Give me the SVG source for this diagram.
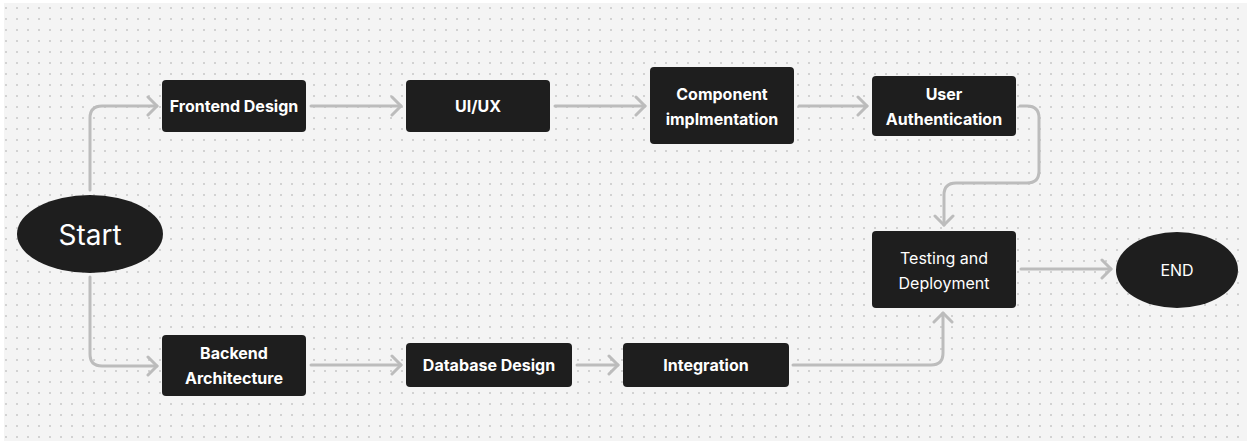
<svg xmlns="http://www.w3.org/2000/svg" width="1251" height="444" viewBox="0 0 1251 444">
  <style>
    .box { fill: #1e1e1e; }
    .lbl { fill: #ffffff; font-family: Inter, "Liberation Sans", sans-serif; font-size: 16px; font-weight: 700; text-anchor: middle; dominant-baseline: central; }
    .reg { font-weight: 400; }
    .big { font-size: 28px; font-weight: 400; }
    .conn { fill: none; stroke: #bcbcbc; stroke-width: 3; stroke-linecap: round; stroke-linejoin: round; marker-end: url(#arr); }
  </style>
  <defs>
    <pattern id="dots" width="11" height="11" patternUnits="userSpaceOnUse" x="5" y="7">
      <circle cx="1" cy="1" r="0.9" fill="#c2c2c2"/>
    </pattern>
    <marker id="arr" viewBox="-12 -12 14 24" refX="0" refY="0" markerWidth="14" markerHeight="24" markerUnits="userSpaceOnUse" orient="auto">
      <path d="M-9,-9 L0,0 L-9,9" fill="none" stroke="#bcbcbc" stroke-width="3" stroke-linecap="round" stroke-linejoin="round"/>
    </marker>
  </defs>
  <rect x="0" y="0" width="1251" height="444" fill="#ffffff"/>
  <rect x="4" y="3" width="1243" height="438" fill="#f4f4f4"/>
  <rect x="4" y="3" width="1243" height="438" fill="url(#dots)"/>

  <g id="connectors">
    <path class="conn" d="M90 190 V118 Q90 106 102 106 H157"/>
    <path class="conn" d="M90 277 V354 Q90 366 102 366 H157"/>
    <path class="conn" d="M311 106 H401"/>
    <path class="conn" d="M555 106 H645"/>
    <path class="conn" d="M799 106 H867"/>
    <path class="conn" d="M1020 106 H1027 Q1039 106 1039 118 V171 Q1039 183 1027 183 H956 Q944 183 944 195 V225"/>
    <path class="conn" d="M1021 269 H1111"/>
    <path class="conn" d="M311 365 H401"/>
    <path class="conn" d="M577 365 H618"/>
    <path class="conn" d="M793 365 H931 Q943 365 943 353 V313"/>
  </g>

  <g id="start">
    <ellipse class="box" cx="90" cy="234" rx="73" ry="39"/>
    <text class="lbl big" x="90" y="235">Start</text>
  </g>
  <g id="frontend-design">
    <rect class="box" x="162" y="80" width="144" height="52" rx="4"/>
    <text class="lbl" x="234" y="106">Frontend Design</text>
  </g>
  <g id="ui-ux">
    <rect class="box" x="406" y="80" width="144" height="52" rx="4"/>
    <text class="lbl" x="478" y="106">UI/UX</text>
  </g>
  <g id="component">
    <rect class="box" x="650" y="67" width="144" height="77" rx="4"/>
    <text class="lbl" x="722" y="94">Component</text>
    <text class="lbl" x="722" y="119">implmentation</text>
  </g>
  <g id="user-auth">
    <rect class="box" x="872" y="76" width="144" height="60" rx="4"/>
    <text class="lbl" x="944" y="94">User</text>
    <text class="lbl" x="944" y="119">Authentication</text>
  </g>
  <g id="testing">
    <rect class="box" x="872" y="231" width="144" height="77" rx="4"/>
    <text class="lbl reg" x="944" y="258">Testing and</text>
    <text class="lbl reg" x="944" y="283">Deployment</text>
  </g>
  <g id="end">
    <ellipse class="box" cx="1177" cy="270" rx="61" ry="38"/>
    <text class="lbl reg" x="1177" y="270">END</text>
  </g>
  <g id="backend">
    <rect class="box" x="162" y="335" width="144" height="61" rx="4"/>
    <text class="lbl" x="234" y="353">Backend</text>
    <text class="lbl" x="234" y="378">Architecture</text>
  </g>
  <g id="database-design">
    <rect class="box" x="406" y="343" width="166" height="44" rx="4"/>
    <text class="lbl" x="489" y="365">Database Design</text>
  </g>
  <g id="integration">
    <rect class="box" x="623" y="343" width="166" height="44" rx="4"/>
    <text class="lbl" x="706" y="365">Integration</text>
  </g>
</svg>
